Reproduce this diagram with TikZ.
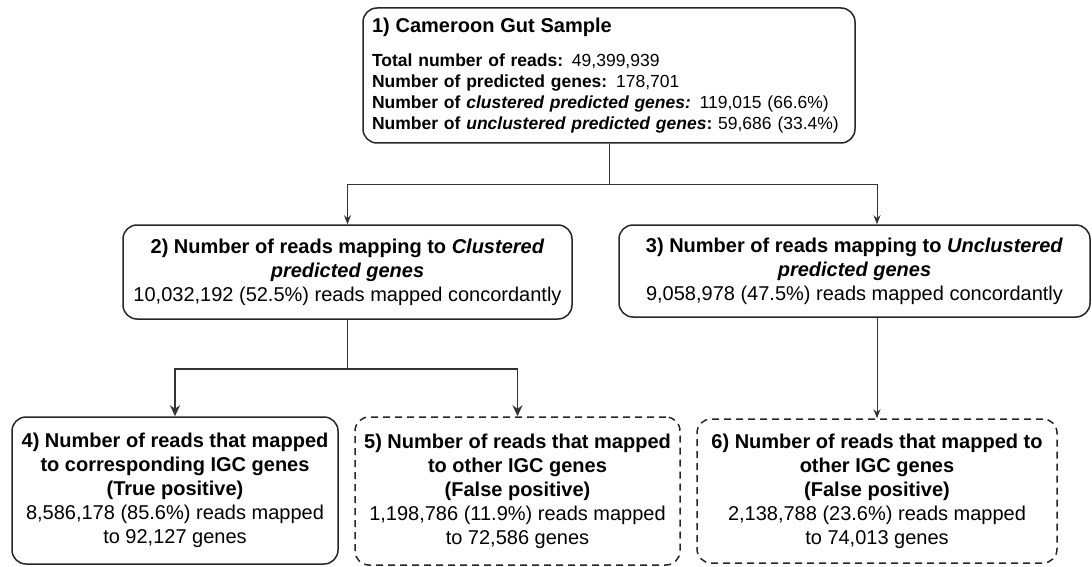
\documentclass[tikz,border=0pt]{standalone}
\usepackage{fontspec}
\setmainfont{Liberation Sans}
\usetikzlibrary{arrows.meta}

\tikzset{
  box/.style={draw=black!85, line width=1.5pt, rounded corners=14pt, align=center,
    inner sep=0pt, font=\fontsize{20}{24}\selectfont},
  dashbox/.style={box, dash pattern=on 7pt off 5pt},
  wire/.style={draw=black!80, line width=0.9pt},
  link/.style={wire, -{Stealth[length=9pt,width=7pt]}},
  thickwire/.style={wire, line width=1.7pt},
  thicklink/.style={thickwire, -{Stealth[length=11pt,width=10pt]}}
}

\begin{document}
\begin{tikzpicture}[x=1pt,y=-1pt]
  \useasboundingbox (0,0) rectangle (1092,567);

  % Muestra inicial
  \node[box, minimum width=492pt, minimum height=135pt, text width=474pt, align=left,
    font=\fontsize{17.5}{21}\selectfont] (sample) at (609,75.5)
    {{\fontsize{20}{24}\selectfont\bfseries 1) Cameroon Gut Sample}\\[13.5pt]
     \textbf{Total number of reads:} 49,399,939\\
     \textbf{Number of predicted genes:} 178,701\\
     \textbf{Number of \textit{clustered predicted genes:}} 119,015 (66.6\%)\\
     \textbf{Number of \textit{unclustered predicted genes}:}\ 59,686\ (33.4\%)};

  % Lecturas mapeadas
  \node[box, minimum width=449pt, minimum height=94pt] (clustered) at (347.5,272)
    {\textbf{2) Number of reads mapping to \textit{Clustered}}\\
     \textbf{\textit{predicted genes}}\\
     10,032,192 (52.5\%) reads mapped concordantly};
  \node[box, minimum width=471pt, minimum height=92pt] (unclustered) at (854.5,271)
    {\textbf{3) Number of reads mapping to \textit{Unclustered}}\\
     \textbf{\textit{predicted genes}}\\
     9,058,978 (47.5\%) reads mapped concordantly};

  % Genes IGC
  \node[box, minimum width=326pt, minimum height=147pt] (truepos) at (175,490.5)
    {\textbf{4) Number of reads that mapped}\\
     \textbf{to corresponding IGC genes}\\
     \textbf{(True positive)}\\
     8,586,178 (85.6\%) reads mapped\\
     to 92,127 genes};
  \node[dashbox, minimum width=325pt, minimum height=148pt] (falsepos) at (517.5,491)
    {\textbf{5) Number of reads that mapped}\\
     \textbf{to other IGC genes}\\
     \textbf{(False positive)}\\
     1,198,786 (11.9\%) reads mapped\\
     to 72,586 genes};
  \node[dashbox, minimum width=360pt, minimum height=144pt] (otherpos) at (877,491)
    {\textbf{6) Number of reads that mapped to}\\
     \textbf{other IGC genes}\\
     \textbf{(False positive)}\\
     2,138,788 (23.6\%) reads mapped\\
     to 74,013 genes};

  % Conexiones
  \coordinate (fork1) at (609,184);
  \coordinate (fork2) at (347.5,369);
  \draw[wire] (sample.south) -- (fork1);
  \draw[link] (fork1) -| (clustered.north);
  \draw[link] (fork1) -| (unclustered.north -| otherpos.north);
  \draw[thickwire] (clustered.south) -- (fork2);
  \draw[thicklink] (fork2) -| (truepos.north);
  \draw[thicklink] (fork2) -| (falsepos.north);
  \draw[link] (unclustered.south -| otherpos.north) -- (otherpos.north);
\end{tikzpicture}
\end{document}
